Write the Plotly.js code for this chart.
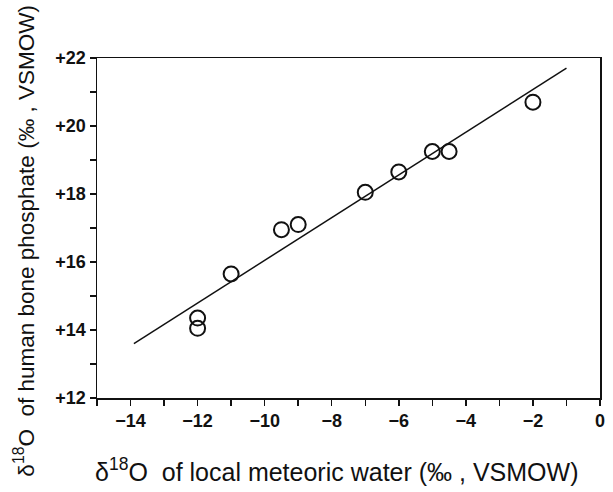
<!DOCTYPE html>
<html>
<head>
<meta charset="utf-8">
<script src="https://cdn.plot.ly/plotly-3.0.1.min.js"></script>
<style>html,body{margin:0;padding:0;background:#fff;}#chart{width:613px;height:492px;}</style>
</head>
<body>
<div id="chart"></div>
<script>
// Data
const waterD18O = [-12, -12, -11, -9.5, -9, -7, -6, -5, -4.5, -2];
const boneD18O  = [14.35, 14.05, 15.65, 16.95, 17.1, 18.05, 18.65, 19.25, 19.25, 20.7];
const fitX = [-13.9, -1.0];
const fitY = [13.6, 21.7];
const xTickVals = [-14, -12, -10, -8, -6, -4, -2, 0];
const xTickText = ["\u221214", "\u221212", "\u221210", "\u22128", "\u22126", "\u22124", "\u22122", "0"];
const yTickVals = [12, 14, 16, 18, 20, 22];
const yTickText = ["+12", "+14", "+16", "+18", "+20", "+22"];
const xTitle = '\u03b4<sup>18</sup>O  of local meteoric water (\u2030 , VSMOW)';
const yTitle = '\u03b4<sup>18</sup>O  of human bone phosphate (\u2030 , VSMOW)';

const traces = [
  {x: fitX, y: fitY, mode: 'lines', line: {color: '#111', width: 1.5}, hoverinfo: 'skip'},
  {x: waterD18O, y: boneD18O, mode: 'markers',
   marker: {symbol: 'circle-open', size: 15, color: '#111', line: {width: 2, color: '#111'}}}
];

const fam = 'Liberation Sans, Arial, sans-serif';
const tickFont = {family: fam, size: 18, color: '#111', weight: 'bold'};

const layout = {
  width: 613, height: 492,
  margin: {l: 97, r: 13, t: 58, b: 94},
  paper_bgcolor: '#fff', plot_bgcolor: '#fff',
  showlegend: false,
  xaxis: {
    range: [-15, 0], tickvals: xTickVals, ticktext: xTickText,
    ticks: 'outside', ticklen: 6, tickwidth: 1.5, tickcolor: '#111',
    minor: {dtick: 1, ticks: 'outside', ticklen: 6, tickwidth: 1.5, tickcolor: '#111'},
    showgrid: false, zeroline: false,
    showline: true, linecolor: '#111', linewidth: 1.5, mirror: true,
    tickfont: tickFont
  },
  yaxis: {
    range: [12, 22], tickvals: yTickVals, ticktext: yTickText,
    ticks: 'outside', ticklen: 6, tickwidth: 1.5, tickcolor: '#111',
    minor: {dtick: 1, ticks: 'outside', ticklen: 6, tickwidth: 1.5, tickcolor: '#111'},
    showgrid: false, zeroline: false,
    showline: true, linecolor: '#111', linewidth: 1.5, mirror: true,
    tickfont: tickFont
  },
  annotations: [
    {text: xTitle, xref: 'paper', yref: 'paper', x: 0.477, y: -0.212,
     xanchor: 'center', yanchor: 'middle', showarrow: false,
     font: {family: fam, size: 25, color: '#111'}},
    {text: yTitle, xref: 'paper', yref: 'paper', x: -0.145, y: 0.463,
     xanchor: 'center', yanchor: 'middle', textangle: -90, showarrow: false,
     font: {family: fam, size: 22.5, color: '#111'}}
  ]
};

Plotly.newPlot('chart', traces, layout, {displayModeBar: false, staticPlot: true});
</script>
</body>
</html>
